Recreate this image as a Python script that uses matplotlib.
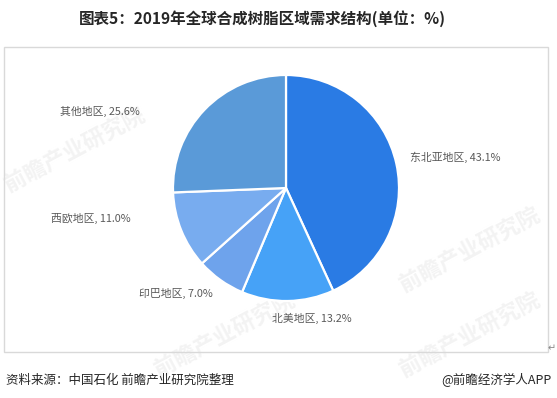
"""Pie chart of 2019 global synthetic resin demand by region"""

from matplotlib import pyplot as plt
from matplotlib.patches import Rectangle

plt.rcParams['font.family'] = ['Noto Sans CJK SC', 'DejaVu Sans']

regions = ['东北亚地区', '北美地区', '印巴地区', '西欧地区', '其他地区']
shares = [43.1, 13.2, 7.0, 11.0, 25.6]
colors = ['#2a7be4', '#46a2f7', '#6ea3ec', '#78acef', '#5a9ad8']

# label anchors in pixels (x, y from top) and alignment
label_pos = [(410, 157, 'left'), (272, 318, 'left'), (213, 293, 'right'),
             (131, 218, 'right'), (140, 111, 'right')]

W, H = 557, 398


def main():
    """Main method"""

    fig = plt.figure(figsize=(W / 100, H / 100), dpi=100)
    ax = fig.add_axes([0, 0, 1, 1])

    ax.pie(shares, colors=colors, startangle=90, counterclock=False,
           center=(286, H - 188), radius=113,
           wedgeprops={'edgecolor': 'white', 'linewidth': 1.6})
    ax.set_xlim(0, W)
    ax.set_ylim(0, H)
    ax.set_aspect('auto')
    ax.axis('off')

    ax.add_patch(Rectangle((4, H - 352), 544, 305, fill=False,
                           edgecolor='#d9d9d9', linewidth=1))

    # faint watermarks
    for wx, wy in [(75, H - 150), (470, H - 250), (225, H - 335), (470, H - 335)]:
        ax.text(wx, wy, '前瞻产业研究院', fontsize=16, color='#f3f3f3',
                rotation=28, ha='center', va='center', weight='bold', zorder=0)

    for name, val, (lx, ly, ha) in zip(regions, shares, label_pos):
        ax.text(lx, H - ly, '{}, {:.1f}%'.format(name, val), fontsize=7.8,
                color='#595959', ha=ha, va='center')

    ax.text(262, H - 19, '图表5：2019年全球合成树脂区域需求结构(单位：%)',
            fontsize=11.2, weight='bold', color='#262626', ha='center', va='center')
    ax.text(6, H - 380, '资料来源：中国石化 前瞻产业研究院整理', fontsize=9,
            color='#262626', ha='left', va='center')
    ax.text(552, H - 380, '@前瞻经济学人APP', fontsize=9,
            color='#262626', ha='right', va='center')
    ax.text(548, H - 348, '↵', fontsize=7, color='#888888', ha='left', va='center')

    plt.savefig('out.png', dpi=100)


if __name__ == '__main__':
    main()
